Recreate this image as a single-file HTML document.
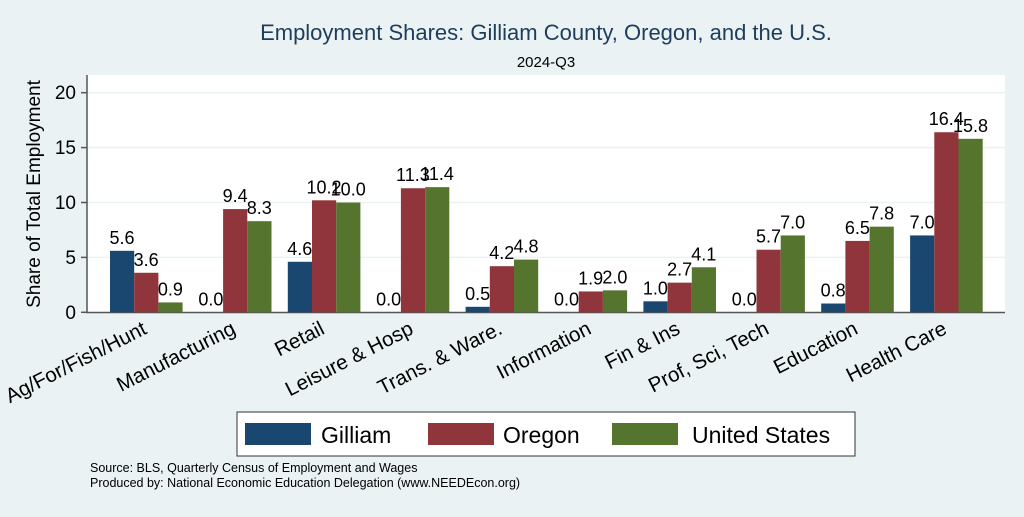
<!DOCTYPE html><html><head><style>body{margin:0;background:#eaf2f3}</style></head><body>
<svg width="1024" height="512" xmlns="http://www.w3.org/2000/svg" font-family="Liberation Sans, sans-serif">
<rect width="1024" height="512" fill="#eaf2f3"/>
<text x="546" y="40" text-anchor="middle" font-size="22" fill="#1e3d5c">Employment Shares: Gilliam County, Oregon, and the U.S.</text>
<text x="546" y="67" text-anchor="middle" font-size="15">2024-Q3</text>
<rect x="87" y="75" width="918" height="237" fill="#fff"/>
<g stroke="#eaf2f3" stroke-width="1.5">
<line x1="87" x2="1005" y1="257.4" y2="257.4"/><line x1="87" x2="1005" y1="202.5" y2="202.5"/><line x1="87" x2="1005" y1="147.6" y2="147.6"/><line x1="87" x2="1005" y1="92.7" y2="92.7"/></g>
<g stroke="#555" stroke-width="1.5"><line x1="87" y1="75" x2="87" y2="312.5"/><line x1="86" y1="312.5" x2="1005" y2="312.5"/>
<line x1="81" x2="87" y1="312.3" y2="312.3"/><line x1="81" x2="87" y1="257.4" y2="257.4"/><line x1="81" x2="87" y1="202.5" y2="202.5"/><line x1="81" x2="87" y1="147.6" y2="147.6"/><line x1="81" x2="87" y1="92.7" y2="92.7"/></g>
<g font-size="19" text-anchor="end"><text x="76" y="319">0</text><text x="76" y="264">5</text><text x="76" y="209">10</text><text x="76" y="154">15</text><text x="76" y="99">20</text></g>
<text transform="translate(40,194) rotate(-90)" text-anchor="middle" font-size="19">Share of Total Employment</text>
<g id="bars"></g>
<g font-size="18" id="vals" text-anchor="middle"></g>
<g font-size="20.5" id="cats" text-anchor="end"></g>
<rect x="237" y="412" width="618" height="44" fill="#fff" stroke="#333"/>
<rect x="245" y="423" width="66" height="22" fill="#1a476f"/><text x="321" y="443" font-size="23">Gilliam</text>
<rect x="428" y="423" width="66" height="22" fill="#90353b"/><text x="503" y="443" font-size="23">Oregon</text>
<rect x="612" y="423" width="66" height="22" fill="#55752f"/><text x="692" y="443" font-size="23">United States</text>
<text x="90" y="472" font-size="12.5">Source: BLS, Quarterly Census of Employment and Wages</text>
<text x="90" y="487" font-size="12.5">Produced by: National Economic Education Delegation (www.NEEDEcon.org)</text>
<script>
var d=[["Ag/For/Fish/Hunt",5.6,3.6,0.9],["Manufacturing",0,9.4,8.3],["Retail",4.6,10.2,10.0],["Leisure & Hosp",0,11.3,11.4],["Trans. & Ware.",0.5,4.2,4.8],["Information",0,1.9,2.0],["Fin & Ins",1.0,2.7,4.1],["Prof, Sci, Tech",0,5.7,7.0],["Education",0.8,6.5,7.8],["Health Care",7.0,16.4,15.8]];
var c=["#1a476f","#90353b","#55752f"],ns="http://www.w3.org/2000/svg";
var B=document.getElementById("bars"),V=document.getElementById("vals"),C=document.getElementById("cats");
function el(p,t,a,txt){var e=document.createElementNS(ns,t);for(var k in a)e.setAttribute(k,a[k]);if(txt!=null)e.textContent=txt;p.appendChild(e);}
d.forEach(function(r,i){var x0=110+i*88.9;for(var j=0;j<3;j++){var v=r[j+1],h=v*10.98,x=x0+j*24.2;
el(B,"rect",{x:x,y:312.3-h,width:24.2,height:h,fill:c[j]});el(V,"text",{x:x+12,y:312.3-h-7},v.toFixed(1));}
el(C,"text",{transform:"translate("+(x0+38)+",333) rotate(-27)"},r[0]);});
</script>
</svg></body></html>
